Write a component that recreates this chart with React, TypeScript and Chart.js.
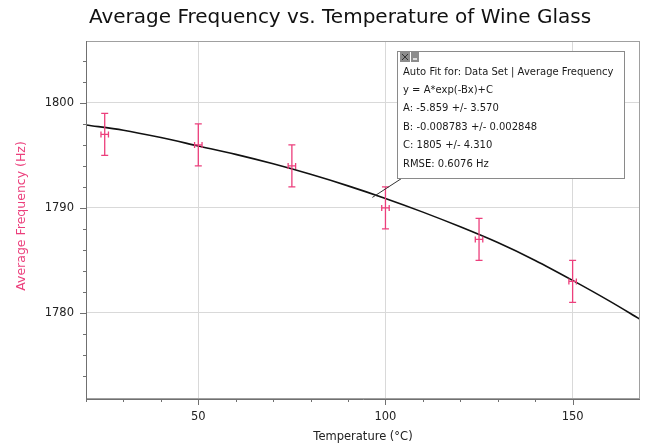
import React, { useEffect, useRef } from "react";
import { Chart, registerables } from "chart.js";

Chart.register(...registerables);

const TITLE = "Average Frequency vs. Temperature of Wine Glass";
const X_TITLE = "Temperature (°C)";
const Y_TITLE = "Average Frequency (Hz)";

const temperatures = [25, 50, 75, 100, 125, 150];
const frequencies = [1797, 1796, 1794, 1790, 1787, 1783];
const tempErr = [1, 1, 1, 1, 1, 1];
const freqErr = [2, 2, 2, 2, 2, 2];

const fitX = [20, 30, 40, 50, 60, 70, 80, 90, 100, 110, 120, 130, 140, 150, 160, 168];
const fitY = [1797.9, 1797.4, 1796.7, 1795.9, 1795.1, 1794.2, 1793.2, 1792.1, 1790.9, 1789.6, 1788.2, 1786.7, 1785.0, 1783.1, 1781.1, 1779.4];

const fitInfo = [
  "Auto Fit for: Data Set | Average Frequency",
  "y = A*exp(-Bx)+C",
  "A: -5.859 +/- 3.570",
  "B: -0.008783 +/- 0.002848",
  "C: 1805 +/- 4.310",
  "RMSE: 0.6076 Hz",
];
const fitAnchor = { x: 96.5, y: 1791 };

const X_MIN = 20, X_MAX = 168, Y_MIN = 1771.8, Y_MAX = 1805.9;
const FONT = "'DejaVu Sans', sans-serif";
const PINK = "#ec3f7c";

const decorPlugin = {
  id: "decor",
  beforeDraw(chart: any) {
    const { ctx } = chart;
    ctx.save();
    ctx.fillStyle = "#fff";
    ctx.fillRect(0, 0, chart.width, chart.height);
    ctx.restore();
  },
  afterDatasetsDraw(chart: any) {
    const { ctx, scales } = chart;
    const xs = scales.x, ys = scales.y;
    ctx.save();
    ctx.strokeStyle = PINK;
    ctx.lineWidth = 1.3;
    for (let i = 0; i < temperatures.length; i++) {
      const px = xs.getPixelForValue(temperatures[i]);
      const py = ys.getPixelForValue(frequencies[i]);
      const yt = ys.getPixelForValue(frequencies[i] + freqErr[i]);
      const yb = ys.getPixelForValue(frequencies[i] - freqErr[i]);
      const xl = xs.getPixelForValue(temperatures[i] - tempErr[i]);
      const xr = xs.getPixelForValue(temperatures[i] + tempErr[i]);
      ctx.beginPath();
      ctx.moveTo(px, yt); ctx.lineTo(px, yb);
      ctx.moveTo(px - 3.5, yt); ctx.lineTo(px + 3.5, yt);
      ctx.moveTo(px - 3.5, yb); ctx.lineTo(px + 3.5, yb);
      ctx.moveTo(xl, py); ctx.lineTo(xr, py);
      ctx.moveTo(xl, py - 3); ctx.lineTo(xl, py + 3);
      ctx.moveTo(xr, py - 3); ctx.lineTo(xr, py + 3);
      ctx.stroke();
    }
    ctx.restore();
  },
  afterDraw(chart: any) {
    const { ctx, chartArea: a, scales } = chart;
    const xs = scales.x, ys = scales.y;
    ctx.save();
    ctx.strokeStyle = "#a0a0a0";
    ctx.lineWidth = 1;
    ctx.strokeRect(a.left + 0.5, a.top + 0.5, a.right - a.left - 1, a.bottom - a.top - 1);
    ctx.strokeStyle = "#707070";
    ctx.beginPath();
    ctx.moveTo(a.left + 0.5, a.top); ctx.lineTo(a.left + 0.5, a.bottom + 0.5);
    ctx.lineTo(a.right, a.bottom + 0.5);
    ctx.stroke();
    ctx.beginPath();
    xs.ticks.forEach((t: any) => {
      const px = Math.round(xs.getPixelForValue(t.value)) + 0.5;
      const len = t.value % 50 === 0 ? 6 : 3;
      ctx.moveTo(px, a.bottom); ctx.lineTo(px, a.bottom + len);
    });
    ys.ticks.forEach((t: any) => {
      const py = Math.round(ys.getPixelForValue(t.value)) + 0.5;
      const len = t.value % 10 === 0 ? 6 : 3;
      ctx.moveTo(a.left, py); ctx.lineTo(a.left - len, py);
    });
    ctx.stroke();

    ctx.fillStyle = "#111";
    ctx.font = `20px ${FONT}`;
    ctx.textAlign = "center";
    ctx.textBaseline = "middle";
    ctx.fillText(TITLE, 340, 18);
    ctx.font = `11.5px ${FONT}`;
    ctx.fillStyle = "#222";
    ctx.fillText(X_TITLE, 363, 437);
    ctx.save();
    ctx.translate(22, 216);
    ctx.rotate(-Math.PI / 2);
    ctx.font = `12.5px ${FONT}`;
    ctx.fillStyle = PINK;
    ctx.fillText(Y_TITLE, 0, 0);
    ctx.restore();

    const bx = 397.5, by = 51.5, bw = 227, bh = 127;
    const ax = xs.getPixelForValue(fitAnchor.x);
    const ay = ys.getPixelForValue(fitAnchor.y);
    ctx.strokeStyle = "#333";
    ctx.lineWidth = 1;
    ctx.beginPath();
    ctx.moveTo(bx + 4, by + bh);
    ctx.lineTo(ax, ay);
    ctx.stroke();
    ctx.fillStyle = "#fff";
    ctx.fillRect(bx, by, bw, bh);
    ctx.strokeStyle = "#8a8a8a";
    ctx.strokeRect(bx, by, bw, bh);
    ctx.fillStyle = "#8c8c8c";
    ctx.fillRect(400, 52, 10, 10);
    ctx.fillRect(411, 52, 8, 10);
    ctx.strokeStyle = "#333";
    ctx.beginPath();
    ctx.moveTo(402, 54); ctx.lineTo(408, 60);
    ctx.moveTo(408, 54); ctx.lineTo(402, 60);
    ctx.stroke();
    ctx.fillStyle = "#ddd";
    ctx.fillRect(413, 58, 4, 2);

    ctx.fillStyle = "#1a1a1a";
    ctx.font = `10px ${FONT}`;
    ctx.textAlign = "left";
    fitInfo.forEach((line, i) => {
      ctx.fillText(line, 403, 72 + i * 18.4);
    });
    ctx.restore();
  },
};

export default function App() {
  const ref = useRef<HTMLCanvasElement>(null);
  useEffect(() => {
    document.body.style.margin = "0";
    const chart = new Chart(ref.current!, {
      type: "scatter",
      data: {
        datasets: [
          {
            type: "line",
            label: "Fit",
            data: fitX.map((x, i) => ({ x, y: fitY[i] })),
            borderColor: "#111",
            borderWidth: 1.6,
            pointRadius: 0,
            cubicInterpolationMode: "monotone",
            fill: false,
          } as any,
          {
            label: "Average Frequency",
            data: temperatures.map((x, i) => ({ x, y: frequencies[i] })),
            pointRadius: 0,
            borderColor: PINK,
            backgroundColor: PINK,
          },
        ],
      },
      options: {
        responsive: false,
        animation: false,
        layout: { padding: { top: 41, right: 7, left: 0, bottom: 0 } },
        plugins: { legend: { display: false }, tooltip: { enabled: false }, title: { display: false } },
        scales: {
          x: {
            type: "linear",
            min: X_MIN,
            max: X_MAX,
            afterBuildTicks: (s: any) => {
              s.ticks = s.ticks.filter((t: any) => t.value % 10 === 0);
            },
            afterFit: (s: any) => { s.height = 48; },
            ticks: {
              stepSize: 10,
              autoSkip: false,
              maxRotation: 0,
              padding: 11,
              color: "#222",
              font: { family: FONT, size: 11.5 },
              callback: (v: any) => (v % 50 === 0 ? String(v) : ""),
            },
            grid: {
              drawTicks: false,
              color: (c: any) => (c.tick && c.tick.value % 50 === 0 ? "#d9d9d9" : "rgba(0,0,0,0)"),
            },
            border: { display: false },
          },
          y: {
            type: "linear",
            min: Y_MIN,
            max: Y_MAX,
            afterBuildTicks: (s: any) => {
              s.ticks = s.ticks.filter((t: any) => Math.round(t.value) === t.value && t.value % 2 === 0);
            },
            afterFit: (s: any) => { s.width = 86; },
            ticks: {
              stepSize: 2,
              autoSkip: false,
              padding: 12,
              color: "#222",
              font: { family: FONT, size: 11.5 },
              callback: (v: any) => (v % 10 === 0 ? String(v) : ""),
            },
            grid: {
              drawTicks: false,
              color: (c: any) => (c.tick && c.tick.value % 10 === 0 ? "#d9d9d9" : "rgba(0,0,0,0)"),
            },
            border: { display: false },
          },
        },
      },
      plugins: [decorPlugin],
    });
    return () => chart.destroy();
  }, []);
  return (
    <div style={{ width: 647, height: 447 }}>
      <canvas ref={ref} width={647} height={447} style={{ display: "block" }} />
    </div>
  );
}
